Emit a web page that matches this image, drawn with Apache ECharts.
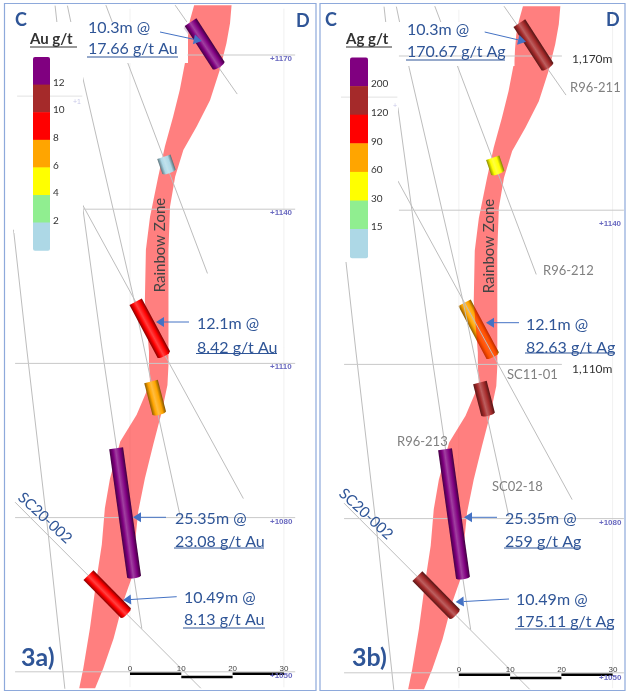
<!DOCTYPE html>
<html lang="en" style="height: 100%">
<head>
    <meta charset="UTF-8">
    <title>Rainbow Zone section</title>
    <script type="text/javascript" src="https://cdn.jsdelivr.net/npm/echarts@6/dist/echarts.min.js"></script>
    <style>html, body { margin: 0; background: #fff; } #container { width: 628px; height: 694px; }</style>
</head>
<body>
<div id="container"></div>
<script type="text/javascript">
// section data: x = metres along the scale bar, e = elevation in metres
var zoneLeft = [[12.5,1179.7],[11.7,1176.8],[11.2,1174.2],[10.7,1168.4],[9.7,1163.2],[8.4,1158],[6.8,1152.2],[5.5,1146.3],[3.9,1138.5],[3.1,1132.1],[2.9,1122.3],[3.7,1112.3],[3.7,1109.7],[3.9,1106.4],[3.2,1104.5],[1.3,1100],[-1.9,1094.8],[-3.9,1087.6],[-4.9,1081.8],[-5.5,1074.7],[-6.5,1068.2],[-7.8,1058.5],[-9.1,1050.7],[-9.9,1046.8]];
var zoneRight = [[19.8,1179.7],[19.5,1176.2],[18.8,1172.3],[17.5,1167.1],[15.6,1161.2],[13,1156.1],[10.4,1151.5],[8.8,1146.3],[7.8,1140.5],[7.5,1132.1],[7.5,1122.3],[7.5,1109.7],[7.3,1105.8],[6.2,1100.6],[4.5,1094.1],[2.9,1087.6],[1.6,1081.2],[0.3,1068.2],[-1.3,1063.7],[-3.2,1056.5],[-5.2,1050.7],[-6.8,1046.8]];

var holes = [
    [[8.8,1179.7],[20.9,1162.4]],
    [[-4.7,1179.7],[15.1,1127.5]],
    [[-12.2,1179.6],[-9.7,1167.7],[0.65,1123],[5.5,1099.9],[9.75,1080.4]],
    [[-22.7,1136],[-20.1,1112.6],[-15.9,1076.5],[-12.7,1046.7]],
    [[-11.9,1160],[-5.5,1113.2],[-2.6,1093.5],[0.8,1068.2],[2.3,1058.4]],
    [[-11.9,1145.7],[22.1,1083.7]],
    [[-22.4,1083],[13.8,1046.8]],
    [[-14.6,1179.6],[-14.1,1175]]
];

// intercepts: from x, from e, to x, to e
var intercepts = [
    [11.8,1176.4,17.3,1167.9],
    [6.6,1150.2,7.6,1147.3],
    [1.1,1122,6.6,1111.7],
    [4.1,1106.5,5.7,1100.3],
    [-2.7,1093.5,0.8,1068.5],
    [-8.1,1068.8,-0.8,1061.4]
];
var auGrades = [17.66, 1, 8.42, 6.5, 23.08, 8.13];
var agGrades = [170.67, 40, 82.63, 150, 259, 175.11];

var bandColours = ['#ADD8E6', '#90EE90', '#FFFF00', '#FFA500', '#FF0000', '#A52A2A', '#800080'];
var auBreaks = [2, 4, 6, 8, 10, 12];
var agBreaks = [15, 30, 60, 90, 120, 200];

var leftLevels = [[1170,11.2,32.2],[1140,-9.1,32.2],[1110,-22.4,32.2],[1080,-22.4,32.2],[1050,-22.4,32.2]];
var rightLevels = [[1170,-11.7,20.1],[1140,-11.7,32.2],[1110,-22.4,20.1],[1080,-22.4,32.2],[1050,-22.4,32.2]];
var scaleTicks = [0, 10, 20, 30];

var auCallouts = [['10.3m @','17.66 g/t Au'],['12.1m @','8.42 g/t Au'],['25.35m @','23.08 g/t Au'],['10.49m @','8.13 g/t Au']];
var agCallouts = [['10.3m @','170.67 g/t Ag'],['12.1m @','82.63 g/t Ag'],['25.35m @','259 g/t Ag'],['10.49m @','175.11 g/t Ag']];
var holeNames = ['R96-211', 'R96-212', 'SC11-01', 'R96-213', 'SC02-18'];

var BLUE = '#2F5597', ARROW = '#4472C4', FONT = 'Lato';
var M = 5.13;  // pixels per metre

var myChart = echarts.init(document.getElementById('container'));

function mix(hex, target, t) {
    var a = echarts.color.parse(hex), b = echarts.color.parse(target);
    return 'rgb(' + [0, 1, 2].map(function (i) { return Math.round(a[i] + (b[i] - a[i]) * t); }).join(',') + ')';
}

function colourFor(grade, breaks) {
    var i = 0;
    while (i < breaks.length && grade >= breaks[i]) i++;
    return bandColours[i];
}

function cylinderItem(breaks) {
    return function (params, api) {
        var a = api.coord([api.value(0), api.value(1)]);
        var b = api.coord([api.value(2), api.value(3)]);
        var base = colourFor(api.value(4), breaks);
        var dx = b[0] - a[0], dy = b[1] - a[1], len = Math.sqrt(dx * dx + dy * dy);
        var ux = dx / len, uy = dy / len, nx = -uy, ny = ux, r = 7;
        var points = [[a[0] + nx * r, a[1] + ny * r], [a[0] - nx * r, a[1] - ny * r]];
        // rounded lower end
        for (var k = 0; k <= 8; k++) {
            var t = -1 + k / 4;
            var bulge = 1.6 * Math.sqrt(Math.max(0, 1 - t * t));
            points.push([b[0] + nx * r * t + ux * bulge, b[1] + ny * r * t + uy * bulge]);
        }
        return {
            type: 'polygon',
            shape: {points: points},
            style: {
                fill: new echarts.graphic.LinearGradient(a[0] - nx * r, a[1] - ny * r, a[0] + nx * r, a[1] + ny * r, [
                    {offset: 0, color: mix(base, '#000000', 0.5)},
                    {offset: 0.25, color: base},
                    {offset: 0.55, color: mix(base, '#ffffff', 0.25)},
                    {offset: 0.75, color: base},
                    {offset: 1, color: mix(base, '#000000', 0.45)}
                ], true)
            }
        };
    };
}

function zoneItem(params, api) {
    var points = zoneLeft.concat(zoneRight.slice().reverse()).map(function (p) { return api.coord(p); });
    return {type: 'polygon', shape: {points: points}, style: {fill: 'rgba(255,0,0,0.5)'}};
}

function lineSeries(idx, data, colour, width, z) {
    return {
        type: 'line', xAxisIndex: idx, yAxisIndex: idx, data: data, showSymbol: false, silent: true,
        lineStyle: {color: colour, width: width}, z: z, animation: false
    };
}

function panelSeries(idx, levels, grades, breaks, underZone) {
    var list = [];
    list.push({type: 'custom', xAxisIndex: idx, yAxisIndex: idx, data: [0], renderItem: zoneItem, z: 1, silent: true, animation: false});
    [0, 30].forEach(function (x) {
        list.push(lineSeries(idx, [[x, 1179], [x, 1047]], '#f1f1f1', 1, 0));
    });
    holes.forEach(function (h) { list.push(lineSeries(idx, h, '#bdbdbd', 1, 2)); });
    levels.forEach(function (l) { list.push(lineSeries(idx, [[l[1], l[0]], [l[2], l[0]]], '#c9c9c9', 1, 4)); });
    var faint = idx === 0 ? [[-22, 1162], [-9.3, 1162]] : [[-23, 1162], [-12, 1162]];
    list.push(lineSeries(idx, faint, '#e2e2e2', 1, 4));
    // scale bar
    list.push(lineSeries(idx, [[scaleTicks[0], 1049.6], [scaleTicks[1], 1049.6]], '#000', 2.5, 6));
    list.push(lineSeries(idx, [[scaleTicks[1], 1049], [scaleTicks[2], 1049]], '#000', 2.5, 6));
    list.push(lineSeries(idx, [[scaleTicks[2], 1049.6], [scaleTicks[3], 1049.6]], '#000', 2.5, 6));

    var rows = intercepts.map(function (r, i) { return r.concat(grades[i]); });
    list.push({
        type: 'custom', xAxisIndex: idx, yAxisIndex: idx, renderItem: cylinderItem(breaks), silent: true, animation: false, z: 5,
        data: rows.filter(function (r, i) { return underZone.indexOf(i) < 0; })
    });
    if (underZone.length) {
        list.push({
            type: 'custom', xAxisIndex: idx, yAxisIndex: idx, renderItem: cylinderItem(breaks), silent: true, animation: false, z: 0,
            data: rows.filter(function (r, i) { return underZone.indexOf(i) >= 0; })
        });
    }
    return list;
}

function txt(text, x, y, font, fill, opts) {
    opts = opts || {};
    return {
        type: 'text', x: x, y: y, z: 10, rotation: opts.rotation || 0, silent: true,
        style: {text: text, font: font, fill: fill, align: opts.align || 'left', verticalAlign: 'middle'}
    };
}

function rule(x1, x2, y, colour, width) {
    return {type: 'line', z: 10, silent: true, shape: {x1: x1, y1: y, x2: x2, y2: y}, style: {stroke: colour, lineWidth: width}};
}

function arrow(tail, tip) {
    var dx = tip[0] - tail[0], dy = tip[1] - tail[1], len = Math.sqrt(dx * dx + dy * dy);
    var ux = dx / len, uy = dy / len, h = 8, w = 5;
    var bx = tip[0] - ux * h, by = tip[1] - uy * h;
    return [
        {type: 'line', z: 9, silent: true, shape: {x1: tail[0], y1: tail[1], x2: bx, y2: by}, style: {stroke: ARROW, lineWidth: 1}},
        {type: 'polygon', z: 9, silent: true, shape: {points: [tip, [bx - uy * w, by + ux * w], [bx + uy * w, by - ux * w]]}, style: {fill: ARROW}}
    ];
}

function legend(title, breaks, x, top, width, band, titleX, underlineX) {
    var out = [];
    bandColours.slice().reverse().forEach(function (c, i) {
        var r = i === 0 ? [2, 2, 0, 0] : (i === bandColours.length - 1 ? [0, 0, 2, 2] : 0);
        out.push({type: 'rect', z: 8, silent: true, shape: {x: x, y: top + i * band, width: width, height: band + 0.5, r: r}, style: {fill: c}});
    });
    breaks.slice().reverse().forEach(function (b, i) {
        out.push(txt(String(b), x + width + 3, top + (i + 1) * band - 2, '10px ' + FONT, '#333'));
    });
    out.push(txt(title, titleX, 39, 'bold 15px ' + FONT, '#333'));
    out.push(rule(underlineX[0], underlineX[1], 47, '#333', 1));
    return out;
}

function callouts(list, spots) {
    var out = [];
    list.forEach(function (c, i) {
        var s = spots[i];
        out.push(txt(c[0], s.x, s.y1, '16px ' + FONT, BLUE));
        out.push(txt(c[1], s.x, s.y2, '16px ' + FONT, BLUE));
        out.push(rule(s.x - 1, s.end, s.u, BLUE, 1));
        out = out.concat(arrow(s.tail, s.tip));
    });
    return out;
}

var graphics = [
    // white boxes behind the legends and the top call-outs
    {type: 'rect', z: 3, silent: true, shape: {x: 14, y: 22, width: 16, height: 211}, style: {fill: '#fff'}},
    {type: 'rect', z: 3, silent: true, shape: {x: 30, y: 22, width: 53, height: 230}, style: {fill: '#fff'}},
    {type: 'rect', z: 3, silent: true, shape: {x: 83, y: 22, width: 105, height: 41}, style: {fill: '#fff'}},
    {type: 'rect', z: 3, silent: true, shape: {x: 330, y: 22, width: 68, height: 240}, style: {fill: '#fff'}},
    {type: 'rect', z: 3, silent: true, shape: {x: 398, y: 22, width: 116.5, height: 44}, style: {fill: '#fff'}},
    // washed-out drill hole ends poking from under the call-out boxes
    {type: 'polygon', z: 4, silent: true, shape: {points: [[183.5, 28], [188.5, 23.5], [188.5, 35]]}, style: {fill: '#ddd0de'}},
    {type: 'polygon', z: 4, silent: true, shape: {points: [[514.5, 27], [518, 25], [518, 33]]}, style: {fill: '#ddd0d0'}},
    // frames
    {type: 'rect', z: 11, silent: true, shape: {x: 4.5, y: 3.5, width: 311.5, height: 687}, style: {fill: 'none', stroke: '#8EA9DB', lineWidth: 1.2}},
    {type: 'rect', z: 11, silent: true, shape: {x: 320, y: 3.5, width: 305, height: 687}, style: {fill: 'none', stroke: '#8EA9DB', lineWidth: 1.2}}
];

graphics = graphics.concat(legend('Au g/t', auBreaks, 33, 57, 17, 27.6, 30, [30, 77]));
graphics = graphics.concat(legend('Ag g/t', agBreaks, 350, 57.5, 18, 28.6, 346, [346, 392]));

graphics = graphics.concat(callouts(auCallouts, [
    {x: 88, y1: 28, y2: 49, u: 57, end: 178, tail: [160, 32], tip: [201.7, 41]},
    {x: 197, y1: 324, y2: 348, u: 353.5, end: 277, tail: [189, 322], tip: [156, 322]},
    {x: 175, y1: 519, y2: 542, u: 548, end: 264, tail: [166, 517.3], tip: [133, 517.3]},
    {x: 184, y1: 598, y2: 620, u: 628, end: 265, tail: [176.7, 596.7], tip: [123, 600]}
]));
graphics = graphics.concat(callouts(agCallouts, [
    {x: 407, y1: 30, y2: 52, u: 60, end: 505, tail: [484.7, 32], tip: [526, 41.7]},
    {x: 526, y1: 325, y2: 348, u: 353, end: 615, tail: [519, 322.7], tip: [486, 322.7]},
    {x: 505, y1: 519, y2: 542, u: 548, end: 580, tail: [497, 517.3], tip: [464, 517.3]},
    {x: 516, y1: 600, y2: 622, u: 629, end: 614, tail: [509, 599], tip: [455.7, 602]}
]));

graphics.push(
    txt('C', 15, 20, 'bold 18px ' + FONT, BLUE), txt('D', 296, 21, 'bold 18px ' + FONT, BLUE),
    txt('C', 325, 20, 'bold 18px ' + FONT, BLUE), txt('D', 606, 20, 'bold 18px ' + FONT, BLUE),
    txt('3a)', 21, 658, 'bold 25px ' + FONT, BLUE), txt('3b)', 352, 658, 'bold 25px ' + FONT, BLUE),
    txt('Rainbow Zone', 160, 245, '15px ' + FONT, '#444', {rotation: Math.PI / 2, align: 'center'}),
    txt('Rainbow Zone', 489, 246, '15px ' + FONT, '#444', {rotation: Math.PI / 2, align: 'center'}),
    txt('SC20-002', 45, 518, '15px ' + FONT, BLUE, {rotation: -0.75, align: 'center'}),
    txt('SC20-002', 366, 514, '15px ' + FONT, BLUE, {rotation: -0.75, align: 'center'}),
    txt('1,170m', 572, 59, '12px ' + FONT, '#333'), txt('1,110m', 572, 369, '12px ' + FONT, '#333')
);

[[570, 88], [543, 271], [507, 375], [397, 442], [492, 487]].forEach(function (p, i) {
    graphics.push(txt(holeNames[i], p[0], p[1], '13px ' + FONT, '#808080'));
});

// elevation labels
var elevFont = 'bold 8px "Liberation Sans"', elevColour = '#6a6ac0';
[[1170, 59], [1140, 213], [1110, 367], [1080, 522], [1050, 676]].forEach(function (p) {
    graphics.push(txt('+' + p[0], 270, p[1], elevFont, elevColour));
});
[[1140, 224], [1080, 523], [1050, 678]].forEach(function (p) {
    graphics.push(txt('+' + p[0], 599, p[1], elevFont, elevColour));
});
graphics.push(txt('+1', 73, 102, '7px "Liberation Sans"', '#c8c8e8'), txt('+', 393, 106, '7px "Liberation Sans"', '#c8c8e8'));

scaleTicks.forEach(function (t) {
    graphics.push(txt(String(t), 130 + t * M, 669, '8px "Liberation Sans"', '#444', {align: 'center'}));
    graphics.push(txt(String(t), 459 + t * M, 670, '8px "Liberation Sans"', '#444', {align: 'center'}));
});

var axisBase = {type: 'value', show: false, min: -25, max: 33};
var elevBase = {type: 'value', show: false, min: 1046, max: 1180};
var gridW = 58 * M, gridH = 134 * 5.14;

myChart.setOption({
    animation: false,
    backgroundColor: '#fff',
    grid: [
        {left: 1.75, top: 3.6, width: gridW, height: gridH},
        {left: 330.75, top: 4.6, width: gridW, height: gridH}
    ],
    xAxis: [Object.assign({gridIndex: 0}, axisBase), Object.assign({gridIndex: 1}, axisBase)],
    yAxis: [Object.assign({gridIndex: 0}, elevBase), Object.assign({gridIndex: 1}, elevBase)],
    series: panelSeries(0, leftLevels, auGrades, auBreaks, [])
        .concat(panelSeries(1, rightLevels, agGrades, agBreaks, [2])),
    graphic: {elements: graphics}
});
</script>
</body>
</html>
